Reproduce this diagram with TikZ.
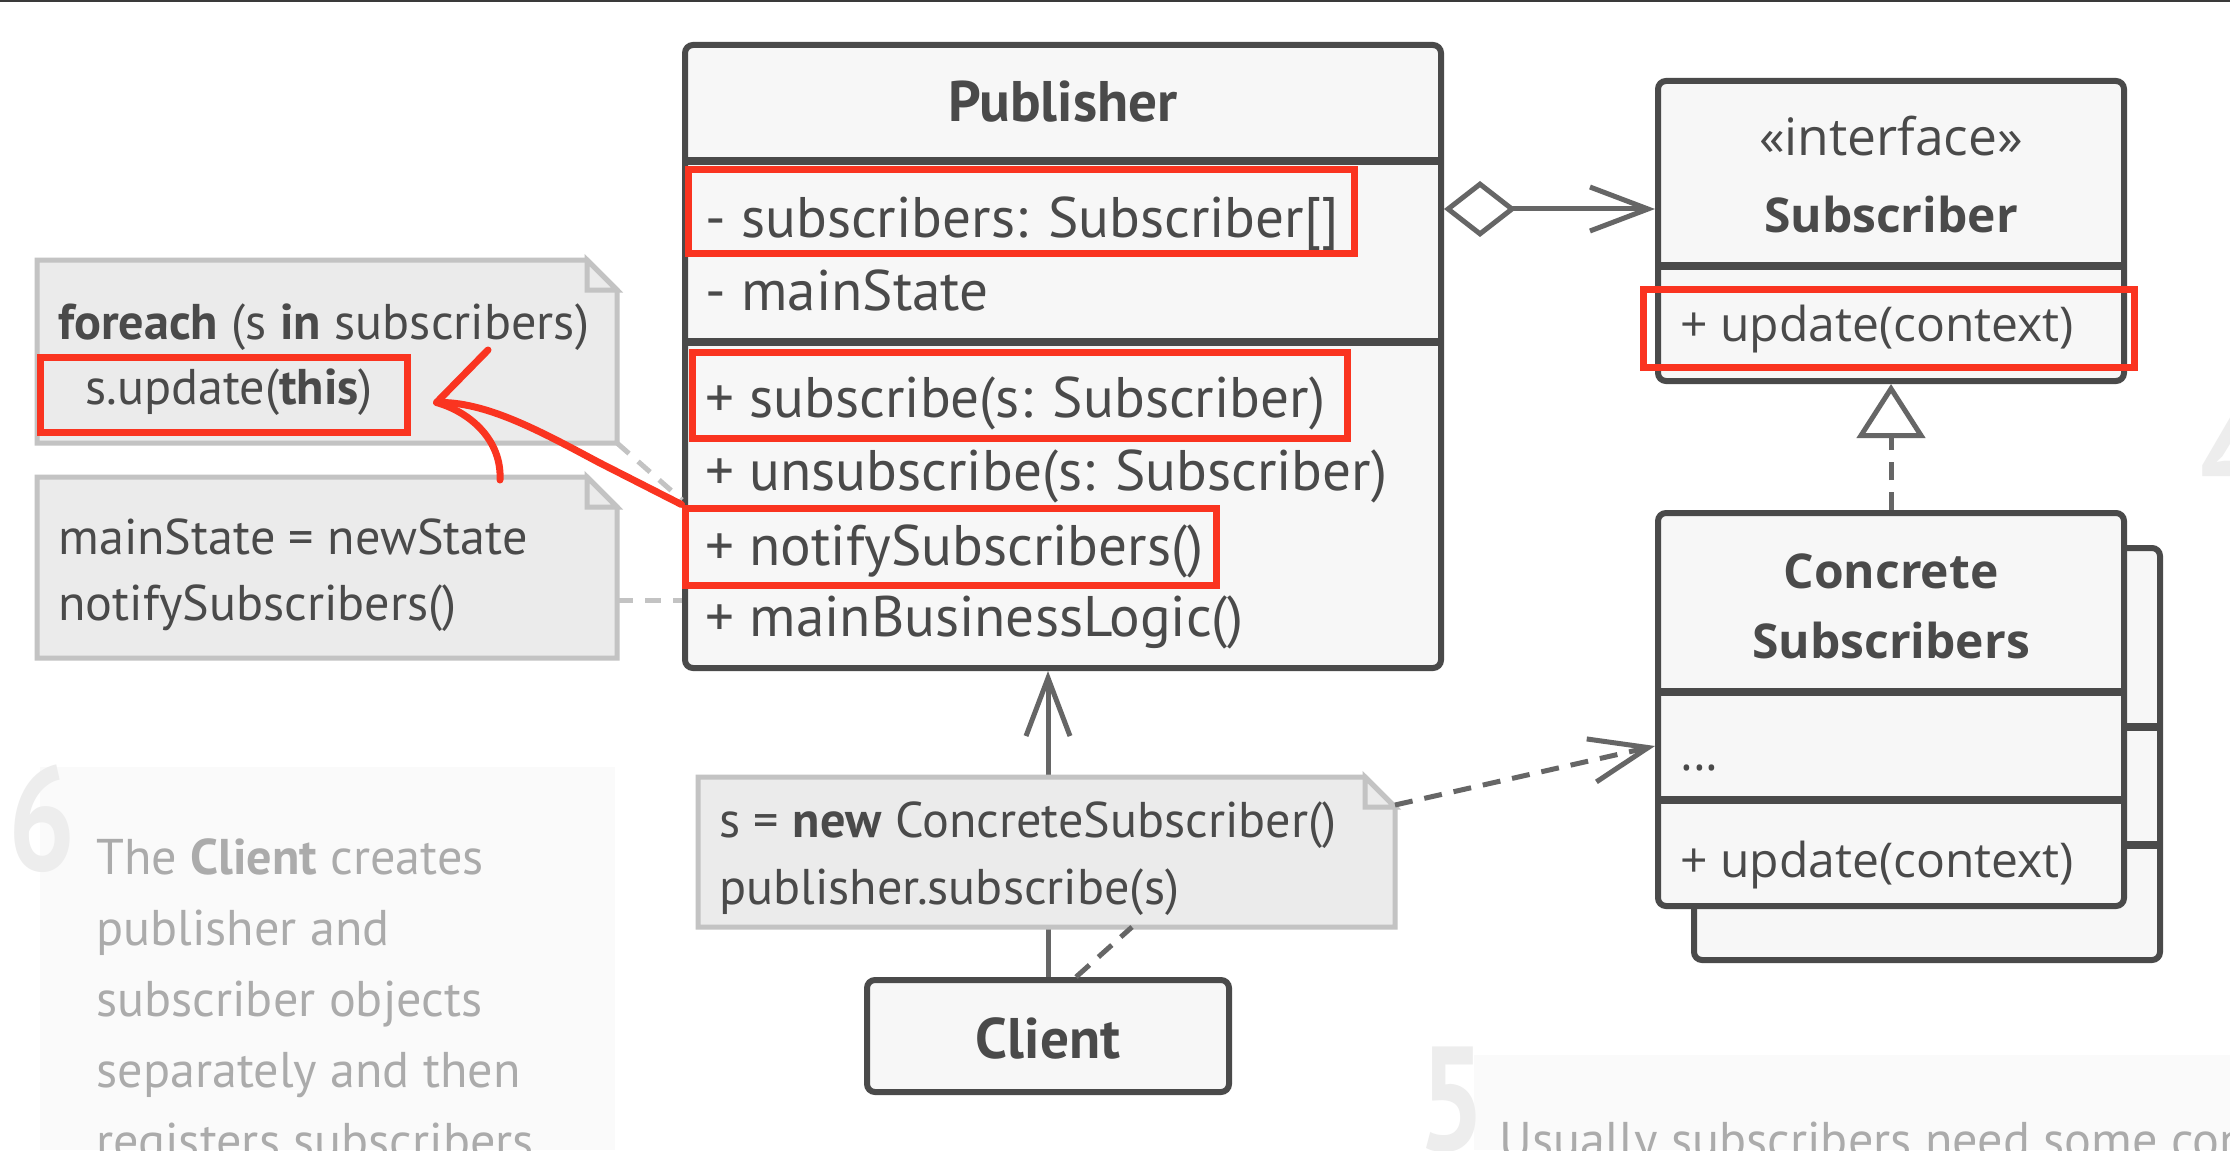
\documentclass[tikz,border=0pt]{standalone}
\usepackage{fontspec}
\setmainfont{PT Sans}
\newfontfamily\osfont{Open Sans}
\usetikzlibrary{arrows.meta, positioning, fit}
\definecolor{INK}{HTML}{4A4A4A}
\definecolor{BOX}{HTML}{F7F7F7}
\definecolor{LNK}{HTML}{666666}
\definecolor{HLR}{HTML}{FA3420}
\definecolor{NFL}{HTML}{EBEBEB}
\definecolor{NLN}{HTML}{C3C3C3}
\definecolor{FAD}{HTML}{ABABAB}
\definecolor{BIG}{HTML}{EDEDED}
\definecolor{PAN}{HTML}{FAFAFA}
\definecolor{TOPL}{HTML}{3A3A3A}
\tikzset{
  classbox/.style={% class rectangles
      draw=INK, fill=BOX, line width=3pt,
      rounded corners=4pt, inner sep=0pt,
  },
  divider/.style={draw=INK, line width=4pt},
  member/.style={% class members, left aligned
      anchor=west, inner sep=0pt, text=INK,
      font=\fontsize{28.6}{34}\selectfont,
      text height=20pt, text depth=0pt,
  },
  classtitle/.style={member, anchor=center, font=\fontsize{28.6}{34}\selectfont\bfseries},
  osmember/.style={member, font=\osfont\fontsize{24}{30}\selectfont, text height=17.1pt},
  ostitle/.style={osmember, anchor=center, font=\osfont\bfseries\fontsize{24}{30}\selectfont},
  notearea/.style={inner sep=0pt, outer sep=0pt},
  noteline/.style={draw=NLN, fill=NFL, line width=2.5pt, line join=miter},
  notetext/.style={member, font=\fontsize{25.1}{30}\selectfont, text height=17.6pt},
  fadetext/.style={notetext, text=FAD},
  bignum/.style={anchor=base west, inner sep=0pt, text=BIG,
      font=\fontsize{74}{74}\selectfont\bfseries},
  hl/.style={draw=HLR, line width=3.5pt, inner sep=0pt},
  assoc/.style={draw=LNK, line width=2.5pt, -{Straight Barb[length=29pt,width=22pt]}},
  aggr/.style={assoc, {Diamond[open,length=36pt,width=28pt]}-{Straight Barb[length=29pt,width=22pt]}},
  depend/.style={assoc, dash pattern=on 9pt off 6pt},
  realize/.style={draw=LNK, line width=2.5pt, dash pattern=on 9pt off 6pt,
      -{Triangle[open,length=27pt,width=34pt]}},
  attach/.style={draw=LNK, line width=2.5pt, dash pattern=on 9pt off 6pt},
  notelink/.style={draw=NLN, line width=2.5pt, dash pattern=on 8pt off 6pt},
  redpen/.style={draw=HLR, line width=3.5pt, line cap=round, line join=round},
}
\def\notepaper#1{% note outline with folded corner round node #1
  \draw[noteline] (#1.north west) -- ([xshift=-15pt]#1.north east)
      -- ([yshift=-15pt]#1.north east) -- (#1.south east) -- (#1.south west) -- cycle;
  \draw[noteline] ([xshift=-15pt]#1.north east) |- ([yshift=-15pt]#1.north east) -- cycle;
}
\begin{document}
\begin{tikzpicture}[x=0.5pt, y=-0.5pt]
  \useasboundingbox (0,0) rectangle (2230,1150);
  \clip (0,0) rectangle (2230,1150);
  \fill[white] (0,0) rectangle (2230,1150);
  \fill[TOPL] (0,0) rectangle (2230,2.5);

  % faded side texts
  \fill[PAN] (40,767) rectangle (615,1150);
  \fill[PAN] (1474,1055) rectangle (2230,1150);
  \node[bignum] (num6) at (8,870) {\scalebox{0.8}[1]{6}};
  \node[bignum] (num5) at (1418,1150) {\scalebox{0.8}[1]{5}};
  \node[bignum] (num4) at (2200,505) {\scalebox{0.8}[1]{4}};
  \foreach \txt [count=\i] in {The \textbf{Client} creates, publisher and,
      subscriber objects, separately and then, registers subscribers}
    \node[fadetext] (fade\i) at (96,{786+71*\i}) {\txt};
  \node[fadetext] (fadeR) at (1499,1140) {Usually subscribers need some context};

  % Publisher
  \node[classbox, fit={(685,45) (1441,668)}] (pub) {};
  \draw[divider] (685,161) -- (1441,161);
  \draw[divider] (685,342) -- (1441,342);
  \node[classtitle] (pubT) at (1063,102) {Publisher};
  \foreach \txt/\y [count=\i] in {- subscribers: Subscriber[]/217, - mainState/290}
    \node[member] (pa\i) at (705,\y) {\txt};
  \foreach \txt/\y [count=\i] in {+ subscribe(s: Subscriber)/397,
      + unsubscribe(s: Subscriber)/470, + notifySubscribers()/545,
      + mainBusinessLogic()/616}
    \node[member] (pm\i) at (705,\y) {\txt};

  % Subscriber interface
  \node[classbox, fit={(1658,81) (2124,381)}] (sub) {};
  \draw[divider] (1658,266) -- (2124,266);
  \node[ostitle, font=\osfont\fontsize{25.8}{30}\selectfont] (subS) at (1891,138) {«interface»};
  \node[ostitle] (subT) at (1891,215) {Subscriber};
  \node[osmember] (subM) at (1680,324) {+ update(context)};

  % Concrete subscribers, stacked
  \node[classbox, fit={(1694,548) (2160,960)}] (conB) {};
  \draw[divider] (1694,727) -- (2160,727);
  \draw[divider] (1694,845) -- (2160,845);
  \node[classbox, fit={(1658,513) (2124,906)}] (conF) {};
  \draw[divider] (1658,692) -- (2124,692);
  \draw[divider] (1658,800) -- (2124,800);
  \node[ostitle] (conT1) at (1891,571) {Concrete};
  \node[ostitle] (conT2) at (1891,641) {Subscribers};
  \node[osmember] (conM1) at (1680,753) {...};
  \node[osmember] (conM2) at (1680,860) {+ update(context)};

  % Client
  \node[classbox, fit={(867,980) (1229,1092)}] (cli) {};
  \node[classtitle] (cliT) at (1048,1038) {Client};

  % relations
  \draw[aggr] (pub.east |- 0,209) -- (sub.west |- 0,209);
  \draw[realize] (conF.north) -- (sub.south);
  \draw[assoc] (cli.north) -- (cli.north |- pub.south);

  % client note
  \node[notearea, fit={(698,777) (1395,927)}] (nt3) {};
  \notepaper{nt3}
  \node[notetext] (n3a) at (719,820) {s = \textbf{new} ConcreteSubscriber()};
  \node[notetext] (n3b) at (719,887) {publisher.subscribe(s)};
  \draw[attach] (cli.north -| 1076,0) -- (nt3.south -| 1132,0);
  \draw[depend] ([yshift=-14pt]nt3.north east) -- (conF.west |- 0,746);

  % publisher notes
  \node[notearea, fit={(37,260) (617,443)}] (nt1) {};
  \node[notearea, fit={(37,477) (617,658)}] (nt2) {};
  \draw[notelink] (nt1.south east) -- (pub.west |- 0,500);
  \draw[notelink] (nt2.east |- 0,600) -- (pub.west |- 0,600);
  \notepaper{nt1}
  \notepaper{nt2}
  \node[notetext] (n1a) at (58,322) {\textbf{foreach} (s \textbf{in} subscribers)};
  \node[notetext] (n1b) at (85,387) {s.update(\textbf{this})};
  \node[notetext] (n2a) at (58,537) {mainState = newState};
  \node[notetext] (n2b) at (58,603) {notifySubscribers()};

  % highlights
  \node[hl, fit={(688,170) (1354,253)}] (hlA) {};
  \node[hl, fit={(692,352) (1347,438)}] (hlB) {};
  \node[hl, fit={(685,508) (1216,585)}] (hlC) {};
  \node[hl, fit={(1643,289) (2134,367)}] (hlD) {};
  \node[hl, fit={(40,357) (407,432)}] (hlE) {};

  % hand drawn red arrow
  \coordinate (tip) at ([shift={(13pt,-4pt)}]hlE.east);
  \draw[redpen] (hlC.north west) -- (598,462) .. controls (540,431) and (485,401) .. (tip);
  \draw[redpen] (488,350) -- (tip) .. controls (470,412) and (502,440) .. (500,480);
\end{tikzpicture}
\end{document}
